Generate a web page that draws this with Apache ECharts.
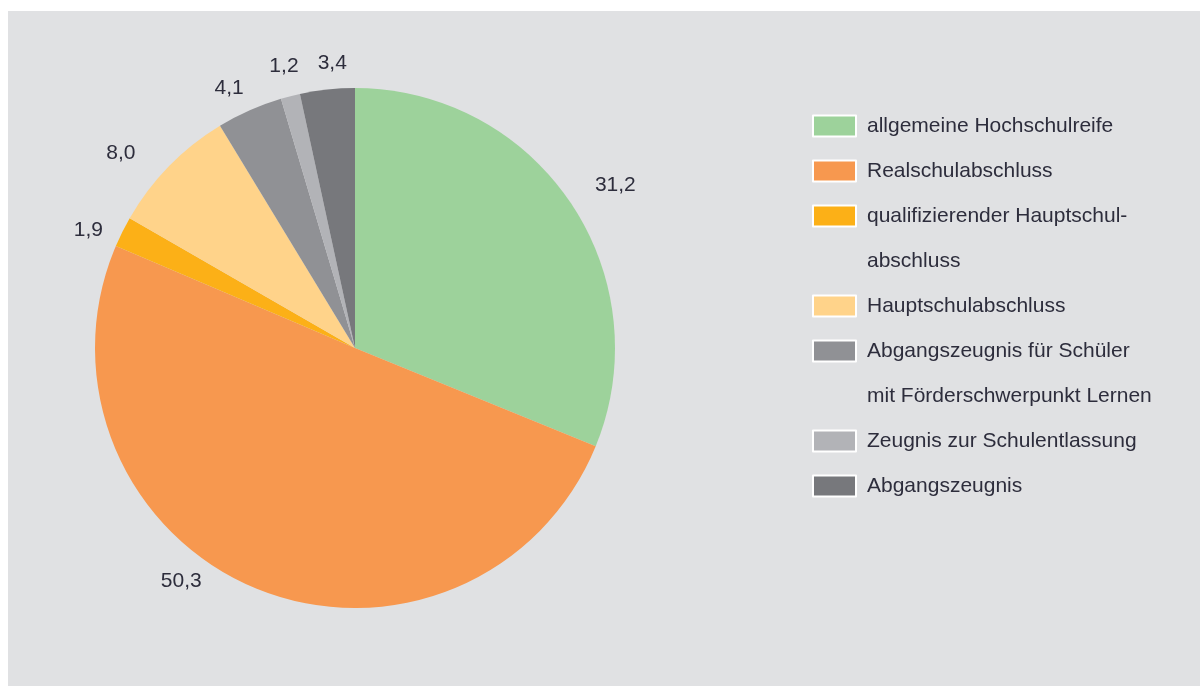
<!DOCTYPE html>
<html>
<head>
<meta charset="utf-8">
<script src="https://cdn.jsdelivr.net/npm/echarts@6/dist/echarts.min.js"></script>
<style>
  html, body { margin: 0; padding: 0; background: #fff; }
  #chart { position: absolute; left: 8px; top: 11px; width: 1192px; height: 675px; }
</style>
</head>
<body>
<div id="chart"></div>
<script>
// Abschlussarten (Anteile in %)
var categories = [
  'allgemeine Hochschulreife',
  'Realschulabschluss',
  'qualifizierender Hauptschul-\nabschluss',
  'Hauptschulabschluss',
  'Abgangszeugnis für Schüler\nmit Förderschwerpunkt Lernen',
  'Zeugnis zur Schulentlassung',
  'Abgangszeugnis'
]
var values = [31.2, 50.3, 1.9, 8.0, 4.1, 1.2, 3.4]
var colors = ['#9dd29b', '#f7984f', '#fcb017', '#ffd38a', '#909195', '#b2b3b7', '#77787c']

var textColor = '#2d2d3c'
var fontFamily = '"Liberation Sans", Arial, sans-serif'

// kleine Verschiebungen der Beschriftungen wie im Original
var labelNudge = [[13, 3], [-59, -42], [0, 15], [-21, 13], [-5, 13], [3, 7], [9, 12]]

var chart = echarts.init(document.getElementById('chart'))

var pieData = categories.map(function (name, i) {
  return { name: name, value: values[i], itemStyle: { color: colors[i] } }
})

var labelData = categories.map(function (name, i) {
  return {
    name: name,
    value: values[i],
    label: { offset: labelNudge[i] }
  }
})

// Legende: je Eintrag eine eigene Legende, damit das Symbol bei
// zweizeiligen Einträgen auf Höhe der ersten Zeile steht
var lineH = 45
var firstRowY = 115
var legends = []
var row = 0
categories.forEach(function (name) {
  var lines = name.split('\n').length
  var twoLine = lines > 1
  legends.push({
    orient: 'vertical',
    left: 804,
    top: firstRowY + row * lineH - lineH / 2 - (twoLine ? lineH : 0),
    padding: 0,
    itemGap: 0,
    itemWidth: 43,
    itemHeight: 21,
    icon: 'rect',
    selectedMode: false,
    itemStyle: { borderColor: '#ffffff', borderWidth: 2 },
    // leere Zeile davor hält die erste Textzeile mittig zum Symbol
    formatter: twoLine ? function (n) { return '\n' + n } : '{name}',
    textStyle: {
      color: textColor,
      fontFamily: fontFamily,
      fontSize: 21,
      lineHeight: lineH,
      padding: [0, 0, 0, 6]
    },
    data: [name]
  })
  row += lines
})

chart.setOption({
  backgroundColor: '#e0e1e3',
  animation: false,
  legend: legends,
  series: [
    {
      type: 'pie',
      center: [347, 337],
      radius: [0, 260],
      startAngle: 90,
      clockwise: true,
      silent: true,
      label: { show: false },
      labelLine: { show: false },
      data: pieData
    },
    {
      // unsichtbarer Ring nur für die Wertbeschriftungen
      type: 'pie',
      center: [347, 337],
      radius: [262, 328],
      startAngle: 90,
      clockwise: true,
      silent: true,
      itemStyle: { color: 'rgba(0,0,0,0)' },
      label: {
        show: true,
        position: 'inside',
        color: textColor,
        fontFamily: fontFamily,
        fontSize: 21,
        formatter: function (p) {
          return p.value.toFixed(1).replace('.', ',')
        }
      },
      labelLine: { show: false },
      data: labelData
    }
  ]
})
</script>
</body>
</html>
